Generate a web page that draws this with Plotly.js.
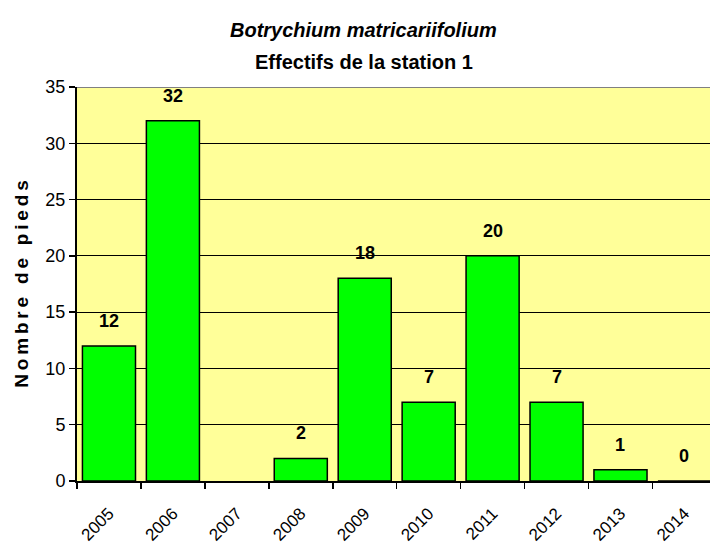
<!DOCTYPE html>
<html>
<head>
<meta charset="utf-8">
<script src="https://cdn.plot.ly/plotly-3.0.1.min.js"></script>
<style>html,body{margin:0;padding:0;background:#fff;}#chart{width:714px;height:551px;}</style>
</head>
<body>
<div id="chart"></div>
<script>
const years = ["2005","2006","2007","2008","2009","2010","2011","2012","2013","2014"];
const counts = [12, 32, null, 2, 18, 7, 20, 7, 1, 0];
const yTicks = [0, 5, 10, 15, 20, 25, 30, 35];
const titleLines = ["Botrychium matricariifolium", "Effectifs de la station 1"];
const yTitle = "Nombre de pieds";

const FONT = "'Liberation Sans Narrow', 'Arial Narrow', 'Liberation Sans', Arial, sans-serif";

const annotations = [];
years.forEach((y, i) => {
  if (counts[i] === null) return;
  annotations.push({
    x: i, y: counts[i], xref: 'x', yref: 'y', yanchor: 'middle', xanchor: 'center',
    text: '<b>' + counts[i] + '</b>', showarrow: false,
    yshift: 25, font: {family: FONT, size: 18, color: '#000'}
  });
});
annotations.push({
  xref: 'paper', yref: 'paper', x: 0.453, y: 1.145, xanchor: 'center', yanchor: 'middle',
  text: '<b><i>' + titleLines[0] + '</i></b>', showarrow: false,
  font: {family: FONT, size: 20, color: '#000'}
});
annotations.push({
  xref: 'paper', yref: 'paper', x: 0.453, y: 1.0635, xanchor: 'center', yanchor: 'middle',
  text: '<b>' + titleLines[1] + '</b>', showarrow: false,
  font: {family: FONT, size: 20, color: '#000'}
});

const spaced = yTitle.split('').map(c => c === ' ' ? '\u00a0' : c).join('\u2009');

const data = [{
  type: 'bar', x: years, y: counts,
  marker: {color: '#00FF00', line: {color: '#000', width: 1.5}},
  width: 0.83, hoverinfo: 'skip'
}];

const layout = {
  width: 714, height: 551,
  margin: {l: 77, r: 4, t: 87, b: 70},
  paper_bgcolor: '#ffffff', plot_bgcolor: '#FFFF99',
  showlegend: false,
  xaxis: {
    type: 'category', range: [-0.5, 9.4],
    tickson: 'boundaries', ticks: 'outside', ticklen: 6, tickcolor: '#000', tickwidth: 1.5,
    tickangle: -45, ticklabelstandoff: 14, showline: true, linecolor: '#000', linewidth: 2,
    showgrid: false, zeroline: false,
    tickfont: {family: FONT, size: 17, color: '#000'}
  },
  yaxis: {
    range: [0, 35], tickvals: yTicks, ticks: 'outside', ticklen: 6, tickcolor: '#000', tickwidth: 1.5,
    showline: true, linecolor: '#000', linewidth: 2,
    showgrid: true, gridcolor: '#000', gridwidth: 1, zeroline: false,
    tickfont: {family: FONT, size: 18, color: '#000'},
    title: {text: '<b>' + spaced + '</b>', font: {family: FONT, size: 19, color: '#000'}, standoff: 12}
  },
  shapes: [{
    type: 'line', xref: 'paper', yref: 'y', x0: 0, x1: 1, y0: 35, y1: 35,
    line: {color: '#808080', width: 2}
  }],
  annotations: annotations
};

Plotly.newPlot('chart', data, layout, {displayModeBar: false, staticPlot: true});
</script>
</body>
</html>
